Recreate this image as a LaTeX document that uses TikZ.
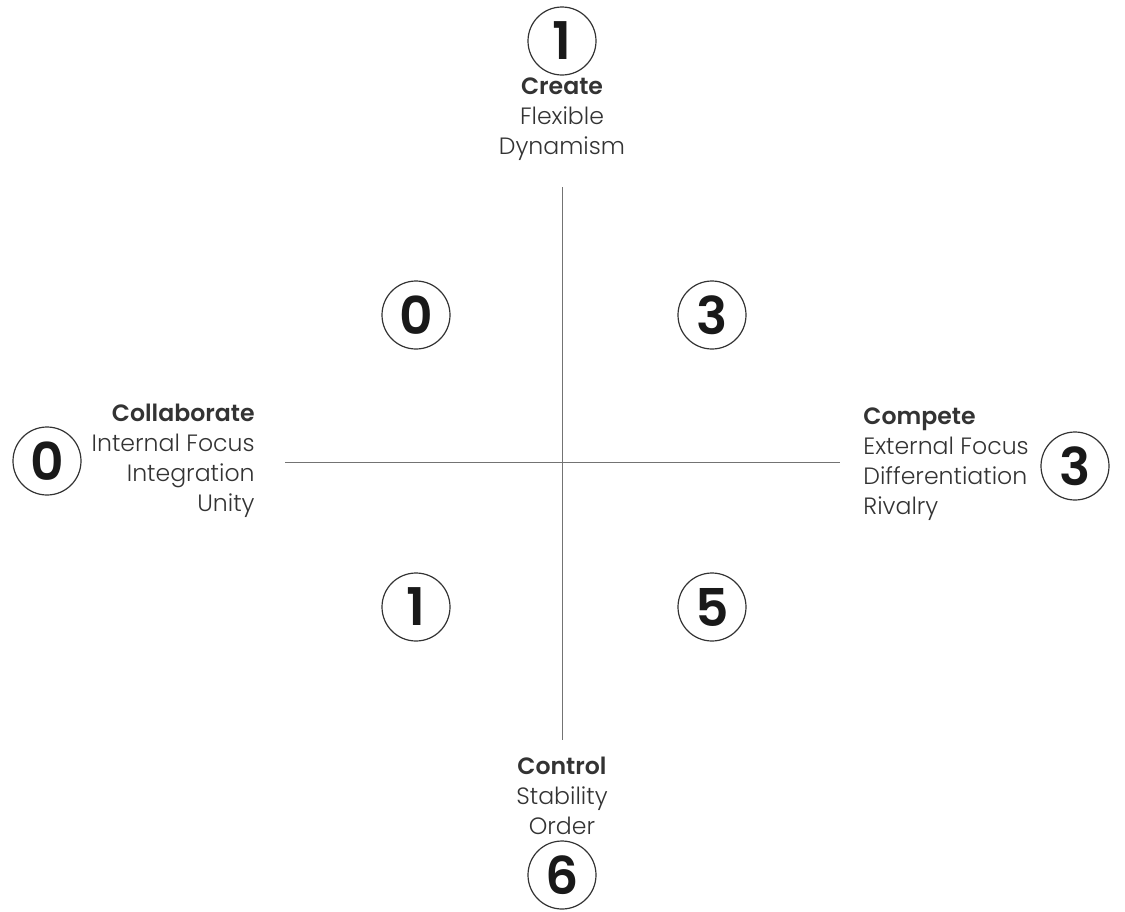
\documentclass[tikz,border=0pt]{standalone}
\usepackage{fontspec}
\setmainfont{Poppins}[UprightFont={* Light}, BoldFont={* SemiBold}]
\usetikzlibrary{positioning}

\tikzset{
  score/.style={circle, draw=black!80, line width=0.6pt, minimum size=34pt, inner sep=0pt,
    text=black!90, font=\bfseries\fontsize{26}{26}\selectfont},
  pole/.style={text=black!80, inner sep=0pt, font=\fontsize{11.8}{15}\selectfont},
  axis/.style={draw=black!55, line width=0.5pt}
}

\begin{document}
\begin{tikzpicture}[x=0.5pt, y=-0.5pt]
\useasboundingbox (0,0) rectangle (1125,911);
% axes
\coordinate (top) at (562,187);
\coordinate (bottom) at (562,740);
\coordinate (left) at (285,462);
\coordinate (right) at (840,462);
\draw[axis] (top) -- (bottom);
\draw[axis] (left) -- (right);
% poles
\node[pole, align=center] (create) at (562,119) {\textbf{Create}\\Flexible\\Dynamism};
\node[pole, align=center] (control) at (562,796) {\textbf{Control}\\Stability\\Order};
\node[pole, align=right, anchor=east] (collab) at (255,461) {\textbf{Collaborate}\\Internal Focus\\Integration\\Unity};
\node[pole, align=left, anchor=west] (compete) at (863,464) {\textbf{Compete}\\External Focus\\Differentiation\\Rivalry};
% scores
\node[score] (s-create) at (562,41) {1};
\node[score] (s-control) at (562,875) {6};
\node[score] (s-collab) at (47,461) {0};
\node[score] (s-compete) at (1075,466) {3};
\node[score] (q-tl) at (416,315) {0};
\node[score] (q-tr) at (712,315) {3};
\node[score] (q-bl) at (416,607) {1};
\node[score] (q-br) at (712,607) {5};
\end{tikzpicture}
\end{document}
